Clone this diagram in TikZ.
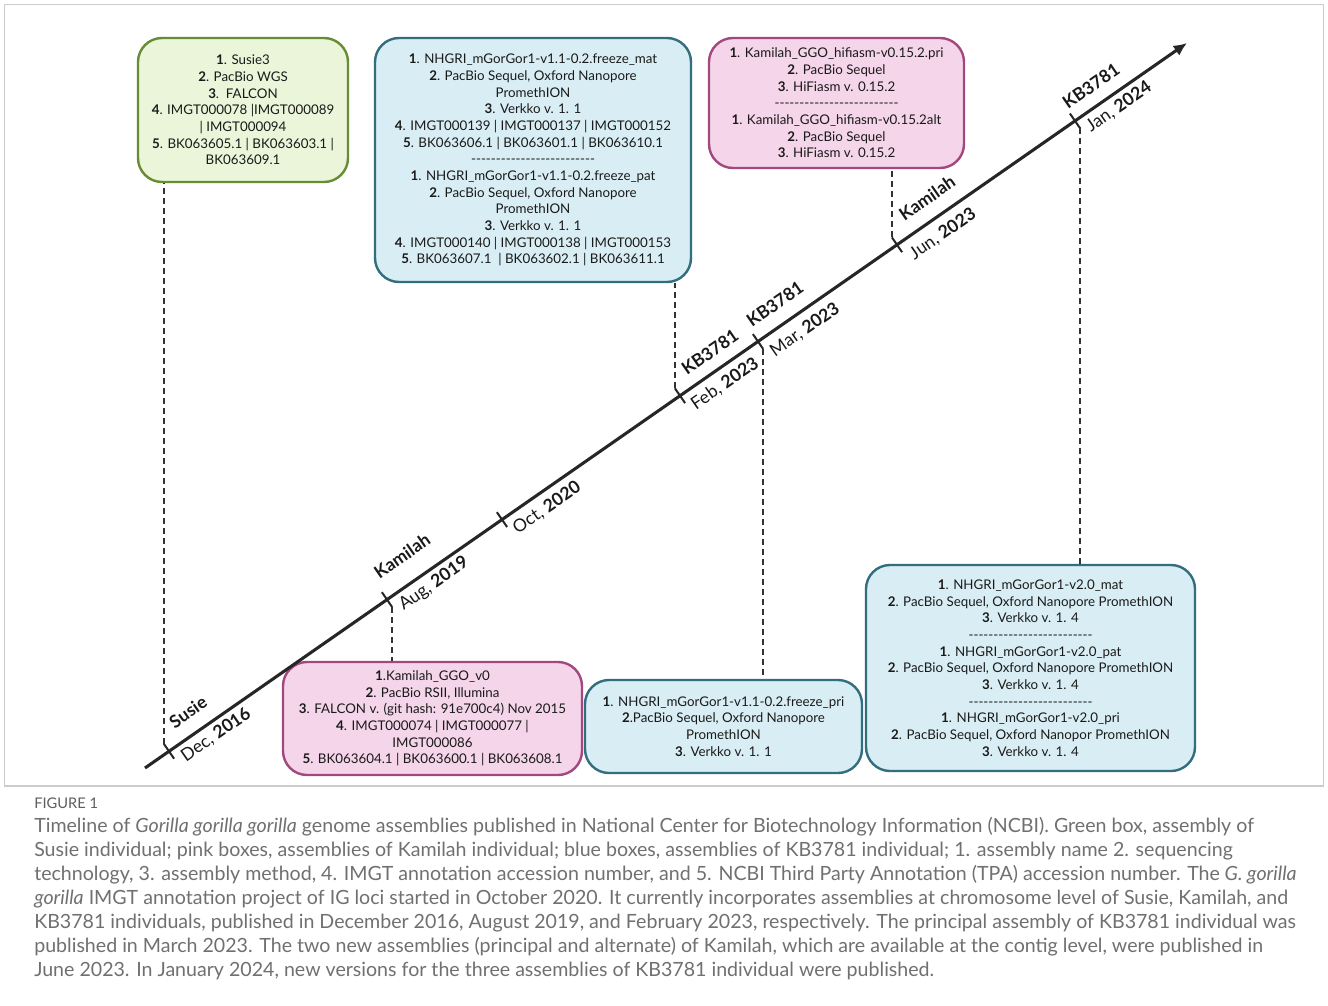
\documentclass[tikz,border=0pt]{standalone}
\usepackage{fontspec}
\setmainfont{Lato}
\usetikzlibrary{arrows.meta,calc}
\definecolor{gfill}{HTML}{EBF5DA}
\definecolor{gdraw}{HTML}{678D34}
\definecolor{bfill}{HTML}{D9EEF4}
\definecolor{bdraw}{HTML}{336E7E}
\definecolor{pfill}{HTML}{F5D5EA}
\definecolor{pdraw}{HTML}{A3487E}
\definecolor{txt}{HTML}{1A1A1A}
\definecolor{capgray}{HTML}{707070}
\definecolor{framegray}{HTML}{CCCCCC}
\newcommand\nb[1]{\textbf{#1}}
\newcommand\hy{-{}}
\newcommand\sepline{\hy\hy\hy\hy\hy\hy\hy\hy\hy\hy\hy\hy\hy\hy\hy\hy\hy\hy\hy\hy\hy\hy\hy\hy\hy}
\tikzset{
  infobox/.style={rounded corners=18pt, line width=1.8pt, align=center, inner sep=0pt,
    text=txt, font=\fontsize{10}{12.5}\selectfont},
  gbox/.style={infobox, draw=gdraw, fill=gfill},
  bbox/.style={infobox, draw=bdraw, fill=bfill},
  pbox/.style={infobox, draw=pdraw, fill=pfill},
  tickmark/.style={line width=1.5pt, draw=black!85},
  conn/.style={line width=1.5pt, draw=black!80, dash pattern=on 4.5pt off 3pt},
  datelbl/.style={rotate=34.8, inner sep=0pt, font=\fontsize{13.2}{15}\selectfont, text=black!90},
  namelbl/.style={rotate=34.8, inner sep=0pt, font=\fontsize{13.2}{15}\selectfont\bfseries, text=black!90},
  capline/.style={anchor=base west, inner sep=0pt, text=capgray, font=\fontsize{14.7}{18}\selectfont}
}
\begin{document}
\begin{tikzpicture}[x=0.75pt,y=-0.75pt]
\useasboundingbox (0,0) rectangle (1328,1006);
\fill[white] (0,0) rectangle (1328,1006);
\draw[framegray, line width=0.9pt] (4.5,4.5) rectangle (1323.5,786);

% boxes
\node[gbox, minimum width=157.5pt, minimum height=108pt] (susie) at (243,110) {%
\nb{1}. Susie3\\
\nb{2}. PacBio WGS\\
\nb{3}.\ \ FALCON\\
\nb{4}. IMGT000078 |IMGT000089\\
| IMGT000094\\
\nb{5}. BK063605.1 | BK063603.1 |\\
BK063609.1};

\node[bbox, minimum width=237pt, minimum height=183pt] (kbtop) at (533,160) {%
\nb{1}. NHGRI\_mGorGor1-v1.1-0.2.freeze\_mat\\
\nb{2}. PacBio Sequel, Oxford Nanopore\\
PromethION\\
\nb{3}. Verkko v. 1. 1\\
\nb{4}. IMGT000139 | IMGT000137 | IMGT000152\\
\nb{5}. BK063606.1 | BK063601.1 | BK063610.1\\
\sepline\\
\nb{1}. NHGRI\_mGorGor1-v1.1-0.2.freeze\_pat\\
\nb{2}. PacBio Sequel, Oxford Nanopore\\
PromethION\\
\nb{3}. Verkko v. 1. 1\\
\nb{4}. IMGT000140 | IMGT000138 | IMGT000153\\
\nb{5}. BK063607.1 \ | BK063602.1 | BK063611.1};

\node[pbox, minimum width=191.25pt, minimum height=97.5pt] (kamtop) at (836.5,103) {%
\nb{1}. Kamilah\_GGO\_hifiasm-v0.15.2.pri\\
\nb{2}. PacBio Sequel\\
\nb{3}. HiFiasm v. 0.15.2\\
\sepline\\
\nb{1}. Kamilah\_GGO\_hifiasm-v0.15.2alt\\
\nb{2}. PacBio Sequel\\
\nb{3}. HiFiasm v. 0.15.2};

\node[pbox, minimum width=224.25pt, minimum height=84.75pt] (kam0) at (432.5,718.5) {%
\nb{1}.Kamilah\_GGO\_v0\\
\nb{2}. PacBio RSII, Illumina\\
\nb{3}. FALCON v. (git hash: 91e700c4) Nov 2015\\
\nb{4}. IMGT000074 | IMGT000077 |\\
IMGT000086\\
\nb{5}. BK063604.1 | BK063600.1 | BK063608.1};

\node[bbox, minimum width=207.75pt, minimum height=69.75pt] (kbpri) at (723.5,726.5) {%
\nb{1}. NHGRI\_mGorGor1-v1.1-0.2.freeze\_pri\\
\nb{2}.PacBio Sequel, Oxford Nanopore\\
PromethION\\
\nb{3}. Verkko v. 1. 1};

\node[bbox, minimum width=246.75pt, minimum height=154.5pt] (kbv2) at (1030.5,668) {%
\nb{1}. NHGRI\_mGorGor1-v2.0\_mat\\
\nb{2}. PacBio Sequel, Oxford Nanopore PromethION\\
\nb{3}. Verkko v. 1. 4\\
\sepline\\
\nb{1}. NHGRI\_mGorGor1-v2.0\_pat\\
\nb{2}. PacBio Sequel, Oxford Nanopore PromethION\\
\nb{3}. Verkko v. 1. 4\\
\sepline\\
\nb{1}. NHGRI\_mGorGor1-v2.0\_pri\\
\nb{2}. PacBio Sequel, Oxford Nanopor PromethION\\
\nb{3}. Verkko v. 1. 4};

% timeline
\coordinate (tlstart) at (145,768);
\coordinate (tlend) at (1187,43);
\draw[line width=2.3pt, draw=black!85, -{Latex[length=10pt,width=9pt]}] (tlstart) -- (tlend);

\foreach \nm/\xx/\yy in {Dec/169/751.3, Aug/387/599.6, Oct/502/519.6, Feb/680/395.7, Mar/758/341.5, Jun/897/244.8, Jan/1075/120.9}{
  \coordinate (t\nm) at (\xx,\yy);
  \coordinate (t\nm U) at ($(t\nm)+(-5.1,-7.4)$);
  \coordinate (t\nm L) at ($(t\nm)+(5.1,7.4)$);
  \draw[tickmark] (t\nm U) -- (t\nm L);
}

% connectors
\draw[conn] (tDecU) -- (tDecU |- susie.south);
\draw[conn] (tAugL) -- (tAugL |- kam0.north);
\draw[conn] (tFebU) -- (tFebU |- kbtop.south);
\draw[conn] (tMarL) -- (tMarL |- kbpri.north);
\draw[conn] (tJunU) -- (tJunU |- kamtop.south);
\draw[conn] (tJanL) -- (tJanL |- kbv2.north);

% labels
\node[namelbl] (nSusie) at (188,712) {Susie};
\node[datelbl] (dDec) at (216,735) {Dec, \textbf{2016}};
\node[namelbl] (nKamA) at (402,556) {Kamilah};
\node[datelbl] (dAug) at (434,584) {Aug, \textbf{2019}};
\node[datelbl] (dOct) at (547,508) {Oct, \textbf{2020}};
\node[namelbl] (nKBFeb) at (710,352) {KB3781};
\node[datelbl] (dFeb) at (725,384) {Feb, \textbf{2023}};
\node[namelbl] (nKBMar) at (775,304) {KB3781};
\node[datelbl] (dMar) at (805,330) {Mar, \textbf{2023}};
\node[namelbl] (nKamJ) at (927,198) {Kamilah};
\node[datelbl] (dJun) at (943,234) {Jun, \textbf{2023}};
\node[namelbl] (nKBJan) at (1091,86) {KB3781};
\node[datelbl] (dJan) at (1119,107) {Jan, \textbf{2024}};

% caption
\node[anchor=base west, inner sep=0pt, text=capgray!85!black, font=\fontsize{11}{13}\selectfont] (fig) at (34,808) {FIGURE 1};
\node[capline] (c1) at (34,832) {Timeline of \textit{Gorilla gorilla gorilla} genome assemblies published in National Center for Biotechnology Information (NCBI). Green box, assembly of};
\node[capline] (c2) at (34,856) {Susie individual; pink boxes, assemblies of Kamilah individual; blue boxes, assemblies of KB3781 individual; 1. assembly name 2. sequencing};
\node[capline] (c3) at (34,880) {technology, 3. assembly method, 4. IMGT annotation accession number, and 5. NCBI Third Party Annotation (TPA) accession number. The \textit{G. gorilla}};
\node[capline] (c4) at (34,904) {\textit{gorilla} IMGT annotation project of IG loci started in October 2020. It currently incorporates assemblies at chromosome level of Susie, Kamilah, and};
\node[capline] (c5) at (34,928) {KB3781 individuals, published in December 2016, August 2019, and February 2023, respectively. The principal assembly of KB3781 individual was};
\node[capline] (c6) at (34,952) {published in March 2023. The two new assemblies (principal and alternate) of Kamilah, which are available at the contig level, were published in};
\node[capline] (c7) at (34,976) {June 2023. In January 2024, new versions for the three assemblies of KB3781 individual were published.};
\end{tikzpicture}
\end{document}
